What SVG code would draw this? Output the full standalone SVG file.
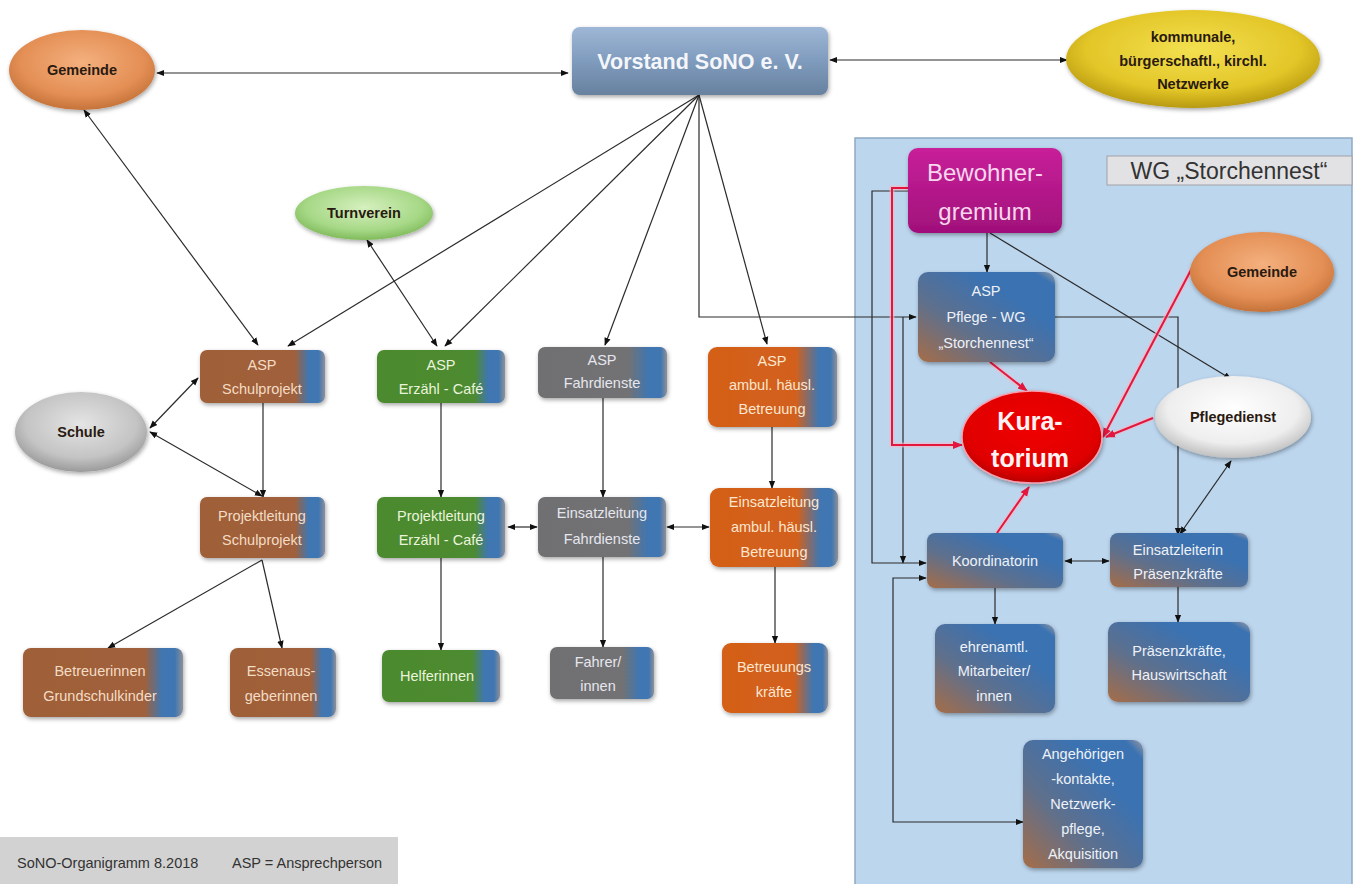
<svg xmlns="http://www.w3.org/2000/svg" width="1357" height="884" viewBox="0 0 1357 884">
<defs>
<style>
.t{font-family:"Liberation Sans",Arial,sans-serif;text-anchor:middle}
.bx{font-size:14.5px}
.ell{font-size:14.5px;font-weight:bold;fill:#2a1a10}
.ln{fill:none;stroke:#2b2b2b;stroke-width:1.2}
.rd{fill:none;stroke:#e3173e;stroke-width:2}
.glow{fill:none;stroke:#f7b8c6;stroke-width:5;opacity:0.6}
</style>
<marker id="ah" viewBox="0 0 10 10" refX="9" refY="5" markerWidth="8" markerHeight="8" markerUnits="userSpaceOnUse" orient="auto-start-reverse"><path d="M0,1 L10,5 L0,9 z" fill="#111"/></marker>
<marker id="ar" viewBox="0 0 10 10" refX="9" refY="5" markerWidth="10" markerHeight="10" markerUnits="userSpaceOnUse" orient="auto-start-reverse"><path d="M0,1 L10,5 L0,9 z" fill="#e3173e"/></marker>
<filter id="sh" x="-20%" y="-20%" width="140%" height="150%"><feDropShadow dx="1" dy="2" stdDeviation="2" flood-color="#000" flood-opacity="0.35"/></filter>
<linearGradient id="gBrown" x1="0" y1="0" x2="1" y2="0"><stop offset="0" stop-color="#9f5f38"/><stop offset="0.76" stop-color="#a0613b"/><stop offset="0.87" stop-color="#3f76b2"/><stop offset="0.95" stop-color="#3f76b2"/><stop offset="1" stop-color="#8f8f98"/></linearGradient>
<linearGradient id="gGreen" x1="0" y1="0" x2="1" y2="0"><stop offset="0" stop-color="#4b8a2e"/><stop offset="0.76" stop-color="#4e8b30"/><stop offset="0.87" stop-color="#3f76b2"/><stop offset="0.95" stop-color="#3f76b2"/><stop offset="1" stop-color="#8f8f98"/></linearGradient>
<linearGradient id="gGray" x1="0" y1="0" x2="1" y2="0"><stop offset="0" stop-color="#707072"/><stop offset="0.7" stop-color="#727274"/><stop offset="0.86" stop-color="#3f76b2"/><stop offset="0.95" stop-color="#3f76b2"/><stop offset="1" stop-color="#8f8f98"/></linearGradient>
<linearGradient id="gOrange" x1="0" y1="0" x2="1" y2="0"><stop offset="0" stop-color="#d45f18"/><stop offset="0.68" stop-color="#d2611c"/><stop offset="0.86" stop-color="#3f76b2"/><stop offset="0.95" stop-color="#3f76b2"/><stop offset="1" stop-color="#8f8f98"/></linearGradient>
<linearGradient id="gWG" x1="0" y1="1" x2="1" y2="0"><stop offset="0" stop-color="#a66d47"/><stop offset="0.35" stop-color="#5f6f8c"/><stop offset="0.7" stop-color="#3a72b2"/><stop offset="0.92" stop-color="#3a72b2"/><stop offset="1" stop-color="#9a9aa2"/></linearGradient>
<linearGradient id="gVor" x1="0" y1="0" x2="0" y2="1"><stop offset="0" stop-color="#9fb7d6"/><stop offset="0.5" stop-color="#7f9bbd"/><stop offset="1" stop-color="#67819f"/></linearGradient>
<linearGradient id="gMag" x1="0" y1="0" x2="0" y2="1"><stop offset="0" stop-color="#c8209a"/><stop offset="1" stop-color="#a0107a"/></linearGradient>
<radialGradient id="rOr" cx="0.5" cy="0.4" r="0.6"><stop offset="0" stop-color="#f4b07e"/><stop offset="0.7" stop-color="#e48f55"/><stop offset="1" stop-color="#c5733a"/></radialGradient>
<radialGradient id="rYe" cx="0.5" cy="0.4" r="0.6"><stop offset="0" stop-color="#f3e050"/><stop offset="0.7" stop-color="#e3c628"/><stop offset="1" stop-color="#b89a10"/></radialGradient>
<radialGradient id="rGr" cx="0.5" cy="0.4" r="0.6"><stop offset="0" stop-color="#e4e4e4"/><stop offset="0.7" stop-color="#c4c4c4"/><stop offset="1" stop-color="#9a9a9a"/></radialGradient>
<radialGradient id="rGn" cx="0.5" cy="0.4" r="0.6"><stop offset="0" stop-color="#d6f0bf"/><stop offset="0.7" stop-color="#a6d886"/><stop offset="1" stop-color="#80bb5c"/></radialGradient>
<radialGradient id="rWh" cx="0.5" cy="0.4" r="0.6"><stop offset="0" stop-color="#ffffff"/><stop offset="0.7" stop-color="#eeeeee"/><stop offset="1" stop-color="#c0c0c0"/></radialGradient>
<radialGradient id="rRd" cx="0.5" cy="0.4" r="0.6"><stop offset="0" stop-color="#f00000"/><stop offset="0.8" stop-color="#e00000"/><stop offset="1" stop-color="#b80000"/></radialGradient>
</defs>
<rect width="1357" height="884" fill="#ffffff"/>

<!-- WG container -->
<g id="wg-container">
<rect x="855" y="138" width="497" height="750" fill="#bcd6ee" stroke="#8fa9c4" stroke-width="1.5"/>
<rect x="1107" y="156" width="245" height="29" fill="#e2e2e4" stroke="#a0a0a8" stroke-width="1"/>
<text class="t" x="1229" y="179" font-size="23" fill="#333">WG „Storchennest“</text>
</g>

<!-- footer -->
<g id="footer">
<rect x="0" y="837" width="398" height="47" fill="#d2d2d2"/>
<text x="17" y="868" font-family="Liberation Sans,Arial,sans-serif" font-size="14.5" fill="#333">SoNO-Organigramm 8.2018</text>
<text x="232" y="868" font-family="Liberation Sans,Arial,sans-serif" font-size="14.5" fill="#333">ASP = Ansprechperson</text>
</g>

<!-- connectors -->
<g id="connectors">
<g class="ln" marker-end="url(#ah)">
<path d="M568 73 H157" marker-start="url(#ah)"/>
<path d="M830 60 H1067" marker-start="url(#ah)"/>
<path d="M699 95 L288 346"/>
<path d="M699 95 L445 346"/>
<path d="M699 95 L605 345"/>
<path d="M699 95 V317 H916"/>
<path d="M903 317 V563"/>
<path d="M699 95 L767 344"/>
<path d="M258 345 L84 110" marker-start="url(#ah)"/>
<path d="M437 346 L367 240" marker-start="url(#ah)"/>
<path d="M150 428 L198 378" marker-start="url(#ah)"/>
<path d="M150 432 L262 496" marker-start="url(#ah)"/>
<path d="M263 403 V497"/>
<path d="M262 560 L108 648"/>
<path d="M262 560 L282 648"/>
<path d="M441 403 V497"/>
<path d="M441 558 V650"/>
<path d="M508 527 H537" marker-start="url(#ah)"/>
<path d="M603 398 V497"/>
<path d="M603 557 V647"/>
<path d="M667 527 H709" marker-start="url(#ah)"/>
<path d="M772 427 V488"/>
<path d="M775 567 V643"/>
<path d="M987 233 V272"/>
<path d="M990 233 L1231 379"/>
<path d="M908 191 H872 V563 H926"/>
<path d="M926 578 H893 V822 H1023" marker-start="url(#ah)"/>
<path d="M1055 317 H1178 V535"/>
<path d="M1180 534 L1231 461" marker-start="url(#ah)"/>
<path d="M1065 561 H1109" marker-start="url(#ah)"/>
<path d="M995 588 V624"/>
<path d="M1178 587 V622"/>
</g>
<g>
<path class="glow" d="M908 188 H892 V445 H955"/>
<path class="glow" d="M990 362 L1022 388"/>
<path class="glow" d="M1192 268 L1105 432"/>
<path class="glow" d="M1153 418 L1110 435"/>
<path class="glow" d="M997 533 L1026 492"/>
</g>
<g class="rd" marker-end="url(#ar)">
<path d="M908 188 H892 V445 H962"/>
<path d="M990 362 L1027 391"/>
<path d="M1192 268 L1103 437"/>
<path d="M1153 418 L1106 437"/>
<path d="M997 533 L1029 487"/>
</g>
</g>

<!-- nodes -->
<g id="gemeinde-left"><ellipse cx="82" cy="70" rx="73" ry="40" fill="url(#rOr)" filter="url(#sh)"/><text class="t ell" x="82" y="75">Gemeinde</text></g>
<g id="vorstand"><rect x="572" y="27" width="256" height="68" rx="8" fill="url(#gVor)" filter="url(#sh)"/><text class="t" x="700" y="69" font-size="21.5" font-weight="bold" fill="#f4f6fa">Vorstand SoNO e. V.</text></g>
<g id="netzwerke"><ellipse cx="1193" cy="59" rx="127" ry="49" fill="url(#rYe)" filter="url(#sh)"/>
<text class="t ell" x="1193" y="42">kommunale,</text><text class="t ell" x="1193" y="66">bürgerschaftl., kirchl.</text><text class="t ell" x="1193" y="89">Netzwerke</text></g>
<g id="turnverein"><ellipse cx="364" cy="213" rx="69" ry="27" fill="url(#rGn)" filter="url(#sh)"/><text class="t ell" x="364" y="218">Turnverein</text></g>
<g id="schule"><ellipse cx="81" cy="432" rx="66" ry="40" fill="url(#rGr)" filter="url(#sh)"/><text class="t ell" x="81" y="437" fill="#333">Schule</text></g>

<g id="asp-schulprojekt"><rect x="200" y="350" width="125" height="53" rx="7" fill="url(#gBrown)" filter="url(#sh)"/><text class="t bx" fill="#f3dcc5"><tspan x="262" y="370">ASP</tspan><tspan x="262" y="394">Schulprojekt</tspan></text></g>
<g id="asp-erzaehl"><rect x="377" y="350" width="128" height="53" rx="7" fill="url(#gGreen)" filter="url(#sh)"/><text class="t bx" fill="#eaf4dc"><tspan x="441" y="370">ASP</tspan><tspan x="441" y="394">Erzähl - Café</tspan></text></g>
<g id="asp-fahrdienste"><rect x="538" y="347" width="129" height="51" rx="7" fill="url(#gGray)" filter="url(#sh)"/><text class="t bx" fill="#e6e6ee"><tspan x="602" y="365">ASP</tspan><tspan x="602" y="388">Fahrdienste</tspan></text></g>
<g id="asp-ambul"><rect x="708" y="347" width="129" height="80" rx="9" fill="url(#gOrange)" filter="url(#sh)"/><text class="t bx" fill="#fbe6cf"><tspan x="772" y="366">ASP</tspan><tspan x="772" y="390">ambul. häusl.</tspan><tspan x="772" y="414">Betreuung</tspan></text></g>

<g id="pl-schulprojekt"><rect x="200" y="497" width="125" height="61" rx="7" fill="url(#gBrown)" filter="url(#sh)"/><text class="t bx" fill="#f3dcc5"><tspan x="262" y="521">Projektleitung</tspan><tspan x="262" y="545">Schulprojekt</tspan></text></g>
<g id="pl-erzaehl"><rect x="377" y="497" width="128" height="61" rx="7" fill="url(#gGreen)" filter="url(#sh)"/><text class="t bx" fill="#eaf4dc"><tspan x="441" y="521">Projektleitung</tspan><tspan x="441" y="545">Erzähl - Café</tspan></text></g>
<g id="el-fahrdienste"><rect x="538" y="497" width="128" height="60" rx="7" fill="url(#gGray)" filter="url(#sh)"/><text class="t bx" fill="#e6e6ee"><tspan x="602" y="518">Einsatzleitung</tspan><tspan x="602" y="544">Fahrdienste</tspan></text></g>
<g id="el-ambul"><rect x="710" y="488" width="128" height="79" rx="9" fill="url(#gOrange)" filter="url(#sh)"/><text class="t bx" fill="#fbe6cf"><tspan x="774" y="507">Einsatzleitung</tspan><tspan x="774" y="532">ambul. häusl.</tspan><tspan x="774" y="557">Betreuung</tspan></text></g>

<g id="betreuerinnen"><rect x="23" y="648" width="160" height="69" rx="8" fill="url(#gBrown)" filter="url(#sh)"/><text class="t bx" fill="#f3dcc5"><tspan x="100" y="676">Betreuerinnen</tspan><tspan x="100" y="701">Grundschulkinder</tspan></text></g>
<g id="essenausgeberinnen"><rect x="230" y="648" width="106" height="69" rx="8" fill="url(#gBrown)" filter="url(#sh)"/><text class="t bx" fill="#f3dcc5"><tspan x="281" y="676">Essenaus-</tspan><tspan x="281" y="701">geberinnen</tspan></text></g>
<g id="helferinnen"><rect x="382" y="650" width="118" height="52" rx="7" fill="url(#gGreen)" filter="url(#sh)"/><text class="t bx" fill="#eaf4dc" x="437" y="681">Helferinnen</text></g>
<g id="fahrer"><rect x="550" y="647" width="104" height="52" rx="7" fill="url(#gGray)" filter="url(#sh)"/><text class="t bx" fill="#e6e6ee"><tspan x="598" y="667">Fahrer/</tspan><tspan x="598" y="691">innen</tspan></text></g>
<g id="betreuungskraefte"><rect x="722" y="643" width="106" height="70" rx="9" fill="url(#gOrange)" filter="url(#sh)"/><text class="t bx" fill="#fbe6cf"><tspan x="774" y="672">Betreuungs</tspan><tspan x="774" y="697">kräfte</tspan></text></g>

<g id="bewohnergremium"><rect x="908" y="148" width="154" height="85" rx="10" fill="url(#gMag)" filter="url(#sh)"/><text class="t" font-size="24" fill="#f8d6ee"><tspan x="985" y="181">Bewohner-</tspan><tspan x="985" y="220">gremium</tspan></text></g>
<g id="gemeinde-right"><ellipse cx="1262" cy="272" rx="72" ry="40" fill="url(#rOr)" filter="url(#sh)"/><text class="t ell" x="1262" y="277">Gemeinde</text></g>
<g id="asp-pflege-wg"><rect x="918" y="272" width="137" height="90" rx="10" fill="url(#gWG)" filter="url(#sh)"/><text class="t bx" fill="#eef2f8"><tspan x="986" y="296">ASP</tspan><tspan x="986" y="322">Pflege - WG</tspan><tspan x="986" y="348">„Storchennest“</tspan></text></g>
<g id="kuratorium"><ellipse cx="1032" cy="437" rx="70" ry="46" fill="url(#rRd)" stroke="#f5a0b0" stroke-width="1.5" filter="url(#sh)"/><text class="t" font-size="25" font-weight="bold" fill="#fff2f2"><tspan x="1030" y="430">Kura-</tspan><tspan x="1030" y="467">torium</tspan></text></g>
<g id="pflegedienst"><ellipse cx="1233" cy="417" rx="78" ry="41" fill="url(#rWh)" filter="url(#sh)"/><text class="t ell" x="1233" y="422" fill="#222">Pflegedienst</text></g>
<g id="koordinatorin"><rect x="927" y="533" width="136" height="55" rx="8" fill="url(#gWG)" filter="url(#sh)"/><text class="t bx" fill="#eef2f8" x="995" y="566">Koordinatorin</text></g>
<g id="einsatzleiterin"><rect x="1110" y="533" width="138" height="54" rx="8" fill="url(#gWG)" filter="url(#sh)"/><text class="t bx" fill="#eef2f8"><tspan x="1178" y="555">Einsatzleiterin</tspan><tspan x="1178" y="579">Präsenzkräfte</tspan></text></g>
<g id="ehrenamtl"><rect x="935" y="624" width="120" height="89" rx="10" fill="url(#gWG)" filter="url(#sh)"/><text class="t bx" fill="#eef2f8"><tspan x="994" y="652">ehrenamtl.</tspan><tspan x="994" y="676">Mitarbeiter/</tspan><tspan x="994" y="701">innen</tspan></text></g>
<g id="praesenzkraefte"><rect x="1108" y="622" width="142" height="80" rx="10" fill="url(#gWG)" filter="url(#sh)"/><text class="t bx" fill="#eef2f8"><tspan x="1179" y="656">Präsenzkräfte,</tspan><tspan x="1179" y="680">Hauswirtschaft</tspan></text></g>
<g id="angehoerigen"><rect x="1023" y="740" width="120" height="128" rx="10" fill="url(#gWG)" filter="url(#sh)"/><text class="t bx" fill="#eef2f8"><tspan x="1083" y="759">Angehörigen</tspan><tspan x="1083" y="784">-kontakte,</tspan><tspan x="1083" y="809">Netzwerk-</tspan><tspan x="1083" y="834">pflege,</tspan><tspan x="1083" y="859">Akquisition</tspan></text></g>
</svg>
